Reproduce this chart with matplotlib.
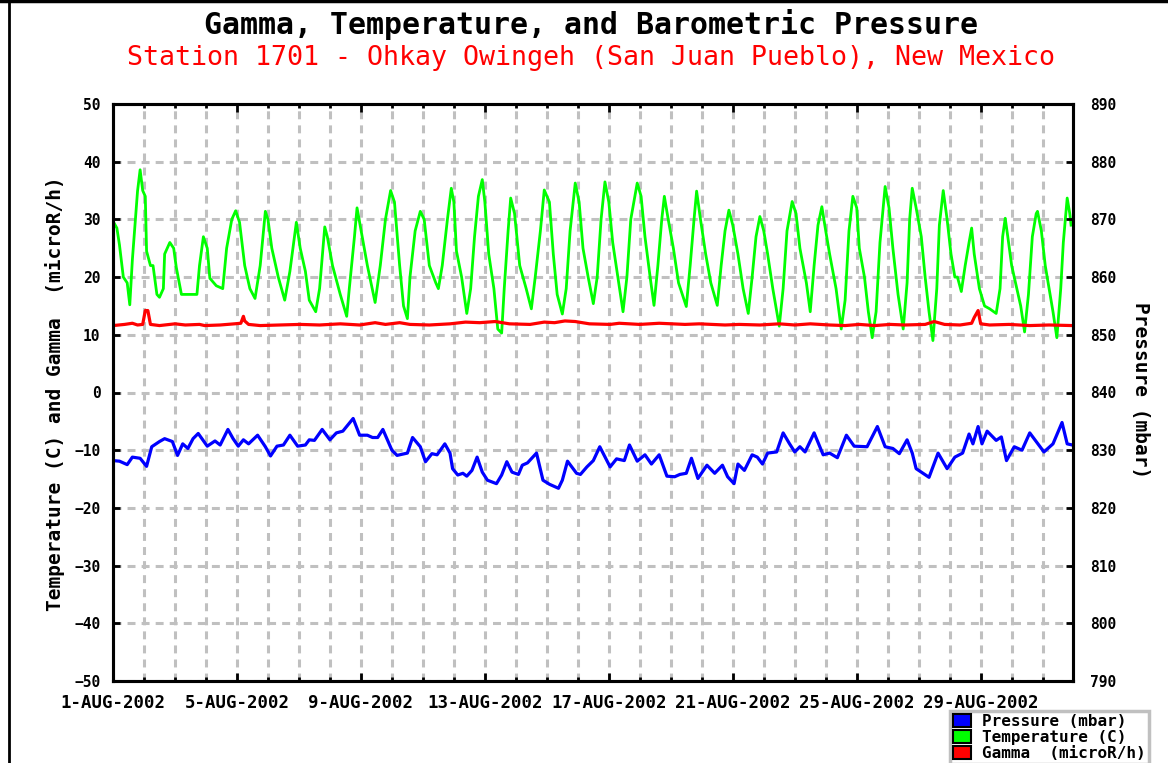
import pandas as pd
import matplotlib
matplotlib.use("Agg")
import matplotlib.pyplot as plt
from matplotlib.patches import Patch
from matplotlib.lines import Line2D

plt.rcParams["font.family"] = ["DejaVu Sans Mono"]
plt.rcParams["font.weight"] = "bold"

start = pd.Timestamp("2002-08-01")

# hours since 1-AUG-2002 00:00 and readings
temp_hours = [0, 3, 5, 8, 11, 13, 15, 19, 21, 23, 25, 26, 29, 31, 34, 36, 39, 40, 44, 47,
              49, 53, 60, 65, 67, 70, 73, 75, 80, 85, 88, 92, 95, 98, 102, 106, 110, 114, 118, 120,
              123, 128, 133, 137, 142, 145, 149, 152, 157, 160, 164, 166, 170, 176, 181, 183, 187, 189, 193, 197,
              203, 207, 211, 215, 218, 222, 225, 228, 230, 234, 238, 241, 245, 250, 252, 255, 259, 262, 264, 266,
              270, 274, 277, 280, 283, 286, 288, 291, 295, 298, 301, 303, 306, 308, 311, 315, 320, 324, 327, 331,
              334, 338, 341, 344, 348, 351, 354, 358, 361, 364, 368, 372, 375, 378, 381, 384, 387, 391, 395, 398,
              401, 406, 409, 412, 416, 419, 422, 425, 427, 430, 434, 438, 444, 447, 450, 452, 455, 459, 463, 468,
              471, 474, 477, 480, 484, 488, 492, 495, 498, 501, 504, 507, 511, 516, 519, 522, 526, 529, 532, 537,
              540, 543, 546, 549, 552, 555, 560, 564, 567, 570, 573, 576, 578, 582, 585, 588, 591, 594, 598, 601,
              604, 608, 612, 615, 617, 619, 622, 626, 629, 632, 635, 638, 640, 643, 646, 649, 652, 654, 657, 660,
              663, 665, 667, 671, 675, 679, 684, 687, 689, 691, 693, 696, 700, 703, 706, 709, 712, 715, 716, 719,
              722, 725, 728, 731, 734, 736, 738, 739, 741, 742]
temp_c = [29.7, 28.5, 25.6, 20.0, 19.0, 15.2, 23.0, 34.9, 38.6, 35.0, 34.0, 24.5, 22.0, 22.0, 17.0, 16.5, 18.0, 24.0, 26.0, 25.0,
          21.7, 17.0, 17.0, 17.0, 22.0, 27.0, 25.0, 19.8, 18.5, 18.0, 25.0, 30.0, 31.5, 29.5, 22.0, 18.0, 16.3, 22.0, 31.4, 30.0,
          25.0, 20.0, 16.0, 21.0, 29.5, 25.0, 21.0, 16.0, 14.0, 18.0, 28.7, 27.0, 22.0, 17.0, 13.2, 18.0, 27.0, 32.0, 27.0, 22.0,
          15.6, 22.0, 30.0, 35.0, 33.0, 22.0, 15.0, 12.8, 20.0, 28.0, 31.4, 30.0, 22.0, 19.0, 18.0, 22.0, 30.0, 35.4, 33.0, 24.5,
          20.0, 13.7, 18.0, 27.0, 34.0, 36.9, 33.0, 24.0, 18.0, 11.0, 10.3, 18.0, 28.0, 33.7, 31.0, 22.0, 18.0, 14.5, 20.0, 28.0,
          35.1, 33.0, 24.0, 17.0, 13.6, 18.0, 28.0, 36.3, 33.0, 25.0, 20.0, 15.4, 20.0, 30.0, 36.5, 33.0, 26.0, 20.0, 14.0, 20.0,
          30.0, 36.3, 34.0, 27.0, 20.0, 15.1, 22.0, 30.0, 34.0, 30.0, 25.0, 19.0, 14.9, 22.0, 30.0, 34.9, 30.0, 24.0, 19.0, 15.1,
          22.0, 28.0, 31.6, 29.0, 24.0, 18.0, 13.7, 20.0, 27.0, 30.5, 28.0, 24.0, 18.0, 11.5, 18.0, 28.0, 33.1, 31.0, 25.0, 19.0,
          14.0, 22.0, 29.0, 32.2, 28.0, 24.0, 18.0, 11.0, 16.0, 28.0, 34.0, 32.0, 25.0, 20.0, 14.0, 9.5, 14.0, 26.0, 35.7, 32.0,
          25.0, 17.0, 11.0, 19.0, 30.0, 35.4, 32.0, 27.0, 20.0, 14.0, 9.0, 18.0, 29.0, 35.0, 30.0, 24.0, 20.0, 20.0, 17.5, 22.0,
          26.0, 28.5, 24.0, 18.0, 15.0, 14.5, 13.7, 18.0, 27.0, 30.2, 27.0, 22.0, 18.0, 15.0, 10.5, 17.0, 27.0, 31.0, 31.4, 28.0,
          22.0, 18.0, 14.0, 9.5, 18.0, 26.0, 31.0, 33.7, 31.0, 29.0]

gamma_hours = [0, 9, 15, 19, 23, 25, 27, 29, 36, 48, 56, 67, 71, 83, 94, 99, 101, 102, 105, 114,
               129, 145, 160, 176, 191, 203, 211, 222, 230, 245, 261, 273, 284, 296, 307, 323, 334, 342, 350, 358,
               369, 385, 392, 408, 423, 443, 454, 474, 485, 501, 516, 528, 540, 555, 567, 578, 590, 602, 613, 629,
               636, 644, 656, 665, 667, 670, 672, 679, 694, 710, 725, 743]
gamma = [11.6, 11.8, 12.0, 11.7, 11.8, 14.2, 14.2, 11.8, 11.6, 11.9, 11.7, 11.8, 11.6, 11.7, 11.9, 12.0, 13.2, 12.4, 11.8, 11.6,
         11.7, 11.8, 11.7, 11.9, 11.7, 12.1, 11.8, 12.1, 11.8, 11.7, 11.9, 12.2, 12.1, 12.3, 11.9, 11.8, 12.2, 12.1, 12.4, 12.3,
         11.9, 11.8, 12.0, 11.8, 12.0, 11.8, 11.9, 11.7, 11.8, 11.7, 11.9, 11.7, 11.9, 11.7, 11.6, 11.8, 11.6, 11.8, 11.7, 11.8,
         12.3, 11.8, 11.7, 12.0, 13.0, 14.2, 11.9, 11.7, 11.8, 11.6, 11.7, 11.6]

press_hours = [0, 5, 11, 15, 21, 26, 30, 36, 40, 46, 50, 54, 58, 62, 66, 73, 79, 83, 89, 93,
               97, 101, 105, 112, 118, 122, 127, 132, 137, 143, 149, 152, 156, 162, 168, 173, 178, 186, 191, 197,
               201, 205, 209, 216, 220, 228, 232, 238, 242, 247, 251, 257, 261, 263, 267, 271, 274, 278, 282, 286,
               290, 297, 301, 305, 309, 314, 317, 321, 328, 333, 338, 345, 348, 352, 359, 362, 367, 372, 377, 385,
               390, 396, 400, 406, 412, 417, 423, 429, 435, 439, 444, 448, 453, 460, 466, 472, 476, 481, 484, 489,
               495, 499, 503, 507, 514, 519, 524, 528, 532, 536, 543, 550, 555, 561, 568, 574, 584, 592, 598, 604,
               609, 615, 619, 622, 626, 632, 639, 646, 652, 658, 663, 666, 670, 673, 677, 684, 688, 692, 698, 704,
               710, 721, 728, 735, 739, 743]
pressure = [828.2, 828.1, 827.5, 828.8, 828.6, 827.2, 830.6, 831.5, 832.0, 831.5, 829.1, 831.1, 830.3, 832.0, 832.9, 830.7, 831.6, 830.9, 833.6, 832.0,
            830.7, 831.8, 831.1, 832.6, 830.6, 829.0, 830.7, 830.9, 832.6, 830.7, 830.9, 831.8, 831.7, 833.6, 831.8, 833.0, 833.3, 835.5, 832.6, 832.6,
            832.2, 832.2, 833.6, 830.0, 829.1, 829.5, 832.2, 830.6, 828.0, 829.4, 829.2, 831.1, 829.5, 826.8, 825.7, 826.0, 825.5, 826.5, 828.8, 826.2,
            824.8, 824.2, 825.7, 828.0, 826.2, 825.8, 827.4, 827.8, 829.5, 824.8, 824.1, 823.4, 824.8, 828.1, 826.0, 825.8, 827.1, 828.2, 830.6, 827.1,
            828.5, 828.2, 830.9, 828.1, 829.2, 827.6, 829.2, 825.5, 825.4, 825.8, 826.0, 828.6, 825.1, 827.4, 826.0, 827.4, 825.4, 824.2, 827.6, 826.5,
            829.2, 828.8, 827.6, 829.5, 829.7, 833.0, 831.1, 829.7, 830.6, 829.7, 833.0, 829.2, 829.5, 828.7, 832.6, 830.7, 830.6, 834.1, 830.6, 830.3,
            829.4, 831.8, 829.5, 826.8, 826.2, 825.3, 829.5, 826.8, 828.8, 829.5, 832.8, 831.1, 834.1, 831.1, 833.3, 831.7, 832.3, 828.2, 830.6, 830.0,
            833.0, 829.7, 831.1, 834.8, 831.1, 830.9]

major_days = pd.date_range(start, periods=8, freq="4D")
left_ticks = list(range(-50, 51, 10))
right_ticks = list(range(790, 891, 10))

t_temp = start + pd.to_timedelta(temp_hours, unit="h")
t_gamma = start + pd.to_timedelta(gamma_hours, unit="h")
t_press = start + pd.to_timedelta(press_hours, unit="h")

W, H = 1168, 763
fig = plt.figure(figsize=(W / 100, H / 100), dpi=100)
ax = fig.add_axes([113 / W, 1 - 681 / H, 960 / W, 577 / H])
ax2 = ax.twinx()

grid_kw = dict(color="#c0c0c0", lw=2.2, linestyle=(0, (2.6, 2.0)))
ax.set_axisbelow(True)
ax.grid(True, which="both", axis="x", **grid_kw)
ax.grid(True, which="major", axis="y", **grid_kw)

ax2.plot(t_press, pressure, color="#0000ff", lw=2.3)
ax.plot(t_temp, temp_c, color="#00ff00", lw=2.0)
ax.plot(t_gamma, gamma, color="#ff0000", lw=2.3)

ax.set_xlim(start, start + pd.Timedelta(hours=743.5))
ax.set_ylim(-50, 50)
ax2.set_ylim(790, 890)
ax.set_yticks(left_ticks)
ax2.set_yticks(right_ticks)

ax.set_xticks(major_days)
ax.set_xticks(pd.date_range(start, periods=31, freq="D"), minor=True)
ax.set_xticklabels([f"{d.day}-{d.strftime('%b').upper()}-{d.year}" for d in major_days])

ax.tick_params(axis="x", which="major", direction="in", length=6, width=2, top=True, pad=9, labelsize=12.5)
ax.tick_params(axis="x", which="minor", direction="in", length=3, width=2, top=True)
ax.tick_params(axis="y", direction="in", length=5, width=2, pad=9, labelsize=10.5)
ax2.tick_params(axis="y", direction="in", length=5, width=2, pad=12, labelsize=10.5)

for a in (ax, ax2):
    for s in a.spines.values():
        s.set_linewidth(2.2)

fig.text(591 / W, 1 - 25 / H, "Gamma, Temperature, and Barometric Pressure",
         ha="center", va="center", fontsize=21.5, fontweight="bold", color="black")
fig.text(591 / W, 1 - 58 / H, "Station 1701 - Ohkay Owingeh (San Juan Pueblo), New Mexico",
         ha="center", va="center", fontsize=19.2, fontweight="normal", color="#ff0000")
fig.text(55 / W, 1 - 394 / H, "Temperature (C) and Gamma  (microR/h)",
         rotation=90, ha="center", va="center", fontsize=14, fontweight="bold")
fig.text(1140 / W, 1 - 390 / H, "Pressure (mbar)",
         rotation=270, ha="center", va="center", fontsize=14, fontweight="bold")

handles = [Patch(facecolor="#0000ff", edgecolor="black", lw=1.5, label="Pressure (mbar)"),
           Patch(facecolor="#00ff00", edgecolor="black", lw=1.5, label="Temperature (C)"),
           Patch(facecolor="#ff0000", edgecolor="black", lw=1.5, label="Gamma  (microR/h)")]
leg = fig.legend(handles=handles, loc="upper left", bbox_to_anchor=(950 / W, 1 - 711 / H),
                 frameon=True, fancybox=False, edgecolor="#c0c0c0", framealpha=1,
                 prop={"size": 11.5, "weight": "bold"}, handlelength=1.1, handleheight=0.9,
                 handletextpad=0.7, labelspacing=0.05, borderpad=0.2, borderaxespad=0)
leg.get_frame().set_linewidth(2.5)

# page frame
fig.add_artist(Line2D([9 / W, 9 / W], [0, 1], transform=fig.transFigure, color="black", lw=2))
fig.add_artist(Line2D([0, 1], [1 - 1 / H, 1 - 1 / H], transform=fig.transFigure, color="black", lw=2.5))

fig.savefig("out.png", dpi=100)
